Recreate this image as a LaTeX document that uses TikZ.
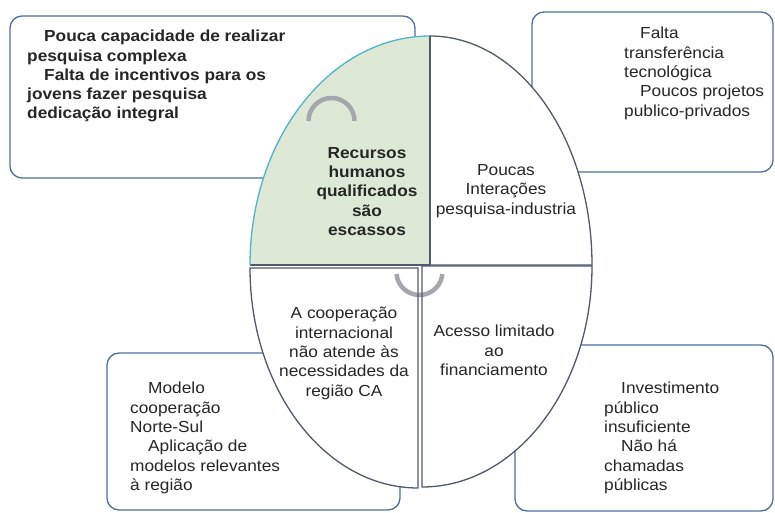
\documentclass[tikz,border=0pt]{standalone}
\usepackage{fontspec}
\setmainfont[FakeStretch=1.08]{Liberation Sans}
\definecolor{boxblue}{HTML}{4F6E9E}
\definecolor{elldark}{HTML}{505A6A}
\definecolor{tealline}{HTML}{4FB3C9}
\definecolor{greenfill}{HTML}{DDE9D6}
\definecolor{arcgray}{HTML}{A6A6AE}
\definecolor{txtcol}{HTML}{262626}
\begin{document}
\begin{tikzpicture}[x=1pt,y=1pt,
  box/.style={draw=boxblue,line width=1.3pt,rounded corners=12pt,fill=white},
  qline/.style={draw=elldark,line width=1.3pt},
  grayarc/.style={draw=arcgray,line width=4.5pt},
  txt/.style={inner sep=0pt,text=txtcol,font=\fontsize{16}{19.4}\selectfont},
  btxt/.style={txt,font=\fontsize{16}{19.3}\selectfont\bfseries}]
\useasboundingbox (0,0) rectangle (775,-513);
\fill[white] (0,0) rectangle (775,-513);
% boxes
\path[box] (10,-16) rectangle (415,-178);
\path[box] (532,-12) rectangle (773,-172);
\path[box] (107,-353) rectangle (400,-510);
\path[box] (515,-345) rectangle (773,-511);
% quarter fills
\fill[greenfill] (430,-265) -- (250,-265) arc[start angle=180,end angle=90,x radius=180pt,y radius=229pt] -- cycle;
\fill[white] (430,-265) -- (430,-36) arc[start angle=90,end angle=0,x radius=162pt,y radius=229pt] -- cycle;
\fill[white] (418,-268) -- (250,-268) arc[start angle=180,end angle=270,x radius=168pt,y radius=220pt] -- cycle;
\fill[white] (422,-266) -- (592,-266) arc[start angle=0,end angle=-90,x radius=170pt,y radius=221pt] -- cycle;
% gray arcs
\draw[grayarc] (308.5,-121) arc[start angle=180,end angle=0,radius=23pt];
\draw[grayarc] (396.5,-274) arc[start angle=185,end angle=355,radius=23pt];
% quarter borders
\draw[qline] (250,-265) -- (430,-265) -- (430,-36);
\draw[tealline,line width=1.3pt] (250,-265) arc[start angle=180,end angle=90,x radius=180pt,y radius=229pt];
\draw[qline] (430,-265) -- (430,-36) arc[start angle=90,end angle=0,x radius=162pt,y radius=229pt] -- cycle;
\draw[qline] (418,-268) -- (250,-268) arc[start angle=180,end angle=270,x radius=168pt,y radius=220pt] -- cycle;
\draw[qline] (422,-266) -- (592,-266) arc[start angle=0,end angle=-90,x radius=170pt,y radius=221pt] -- cycle;
% texts
\node[btxt,anchor=north west,align=left] (tltext) at (27,-30)
  {\hspace*{17pt}Pouca capacidade de realizar\\pesquisa complexa\\\hspace*{17pt}Falta de incentivos para os\\jovens fazer pesquisa\\dedicação integral};
\node[btxt,anchor=north,align=center] (center) at (367,-147)
  {Recursos\\humanos\\qualificados\\são\\escassos};
\node[txt,anchor=north,align=center] (trq) at (506,-164)
  {Poucas\\Interações\\pesquisa-industria};
\node[txt,anchor=north west,align=left] (trtext) at (624,-27)
  {\hspace*{16pt}Falta\\transferência\\tecnológica\\\hspace*{16pt}Poucos projetos\\publico-privados};
\node[txt,anchor=north,align=center] (blq) at (344,-307)
  {A cooperação\\internacional\\não atende às\\necessidades da\\região CA};
\node[txt,anchor=north,align=center] (brq) at (494,-325)
  {Acesso limitado\\ao\\financiamento};
\node[txt,anchor=north west,align=left] (bltext) at (130,-382)
  {\hspace*{18pt}Modelo\\cooperação\\Norte-Sul\\\hspace*{18pt}Aplicação de\\modelos relevantes\\à região};
\node[txt,anchor=north west,align=left] (brtext) at (604,-382)
  {\hspace*{17pt}Investimento\\público\\insuficiente\\\hspace*{17pt}Não há\\chamadas\\públicas};
\end{tikzpicture}
\end{document}
